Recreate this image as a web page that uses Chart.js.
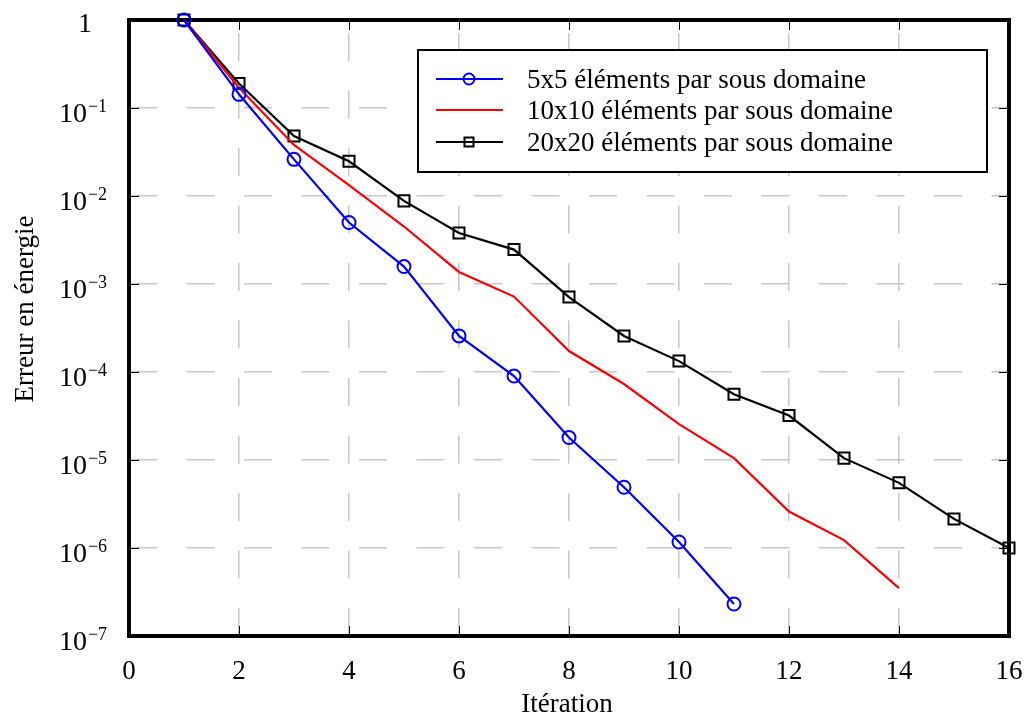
<!DOCTYPE html>
<html>
<head>
<meta charset="utf-8">
<script src="https://cdn.jsdelivr.net/npm/chart.js@4/dist/chart.umd.min.js"></script>
<style>
html,body{margin:0;padding:0;background:#fff;}
#c{display:block;}
</style>
</head>
<body>
<canvas id="c" width="1025" height="716"></canvas>
<script>
const iterations = [1,2,3,4,5,6,7,8,9,10,11,12,13,14,15,16];
const err5x5 = [1, 0.143, 0.0261, 0.0050, 0.00158, 2.57e-4, 9.0e-5, 1.8e-5, 4.9e-6, 1.17e-6, 2.31e-7];
const err10x10 = [1, 0.17, 0.038, 0.0133, 0.0045, 0.00137, 7.2e-4, 1.73e-4, 7.3e-5, 2.56e-5, 1.05e-5, 2.6e-6, 1.23e-6, 3.5e-7];
const err20x20 = [1, 0.19, 0.048, 0.0248, 0.0088, 0.0038, 0.00246, 7.1e-4, 2.57e-4, 1.33e-4, 5.6e-5, 3.2e-5, 1.05e-5, 5.5e-6, 2.14e-6, 1.0e-6];
const seriesLabels = ['5x5 éléments par sous domaine', '10x10 éléments par sous domaine', '20x20 éléments par sous domaine'];
const xTickValues = [0,2,4,6,8,10,12,14,16];
const yTickExponents = [0,-1,-2,-3,-4,-5,-6,-7];
const xTitle = 'Itération';
const yTitle = 'Erreur en énergie';

const FONT = 'Liberation Serif';
const toPts = (ys) => ys.map((v, i) => ({x: iterations[i], y: v}));

const decor = {
  id: 'decor',
  beforeDatasetsDraw(chart) {
    const ctx = chart.ctx, a = chart.chartArea;
    const xs = chart.scales.x, ys = chart.scales.y;
    ctx.save();
    ctx.strokeStyle = '#000';
    ctx.lineWidth = 1;
    ctx.beginPath();
    xTickValues.forEach(v => {
      if (v === xs.min || v === xs.max) return;
      const px = Math.round(xs.getPixelForValue(v)) + 0.5;
      ctx.moveTo(px, a.bottom); ctx.lineTo(px, a.bottom - 10);
      ctx.moveTo(px, a.top); ctx.lineTo(px, a.top + 10);
    });
    yTickExponents.forEach(k => {
      const v = Math.pow(10, k);
      if (v === ys.min || v === ys.max) return;
      const py = Math.round(ys.getPixelForValue(v)) + 0.5;
      ctx.moveTo(a.left, py); ctx.lineTo(a.left + 10, py);
      ctx.moveTo(a.right, py); ctx.lineTo(a.right - 10, py);
    });
    ctx.stroke();
    ctx.lineWidth = 4;
    ctx.strokeRect(a.left, a.top, a.right - a.left, a.bottom - a.top);
    ctx.restore();
  },
  afterDraw(chart) {
    const ctx = chart.ctx, a = chart.chartArea;
    const ys = chart.scales.y;
    ctx.save();
    ctx.fillStyle = '#000';
    const cx = 83;
    yTickExponents.forEach(k => {
      const py = ys.getPixelForValue(Math.pow(10, k));
      ctx.textBaseline = 'alphabetic';
      ctx.textAlign = 'left';
      if (k === 0) {
        ctx.font = '28px "' + FONT + '"';
        const w = ctx.measureText('1').width;
        ctx.fillText('1', cx + 2 - w / 2, py + 12);
      } else {
        ctx.font = '28px "' + FONT + '"';
        const w1 = ctx.measureText('10').width;
        ctx.font = '18px "' + FONT + '"';
        const sup = '\u2212' + Math.abs(k);
        const w2 = ctx.measureText(sup).width;
        const x0 = cx - (w1 + w2 + 1) / 2;
        ctx.font = '28px "' + FONT + '"';
        ctx.fillText('10', x0, py + 14);
        ctx.font = '18px "' + FONT + '"';
        ctx.fillText(sup, x0 + w1 + 1, py + 4);
      }
    });
    ctx.font = '27px "' + FONT + '"';
    ctx.textAlign = 'center';
    ctx.textBaseline = 'alphabetic';
    ctx.fillText(xTitle, 567, 712);
    ctx.save();
    ctx.translate(33, 309);
    ctx.rotate(-Math.PI / 2);
    ctx.fillText(yTitle, 0, 0);
    ctx.restore();
    const bx = 418, by = 50, bw = 569, bh = 122;
    ctx.fillStyle = '#fff';
    ctx.fillRect(bx, by, bw, bh);
    ctx.strokeStyle = '#000';
    ctx.lineWidth = 2;
    ctx.strokeRect(bx, by, bw, bh);
    const rows = [79, 110, 142];
    chart.data.datasets.forEach((ds, i) => {
      const y = rows[i];
      ctx.strokeStyle = ds.borderColor;
      ctx.lineWidth = 2;
      ctx.beginPath();
      ctx.moveTo(436, y); ctx.lineTo(503, y);
      ctx.stroke();
      if (ds.pointStyle === 'circle' && ds.pointRadius > 0) {
        ctx.beginPath();
        ctx.arc(469, y, 5.5, 0, Math.PI * 2);
        ctx.stroke();
      } else if (ds.pointStyle === 'rect' && ds.pointRadius > 0) {
        ctx.strokeRect(469 - 4.5, y - 4.5, 9, 9);
      }
      ctx.fillStyle = '#000';
      ctx.font = '27px "' + FONT + '"';
      ctx.textAlign = 'left';
      ctx.textBaseline = 'alphabetic';
      ctx.fillText(ds.label, 527, y + 9);
    });
    ctx.restore();
  }
};

const gridColor = '#c8c8c8';

new Chart(document.getElementById('c'), {
  type: 'line',
  data: {
    datasets: [
      {label: seriesLabels[0], data: toPts(err5x5), borderColor: '#0000ff', backgroundColor: 'transparent',
       borderWidth: 2.2, pointStyle: 'circle', pointRadius: 6.5, pointBorderWidth: 2, pointBackgroundColor: 'transparent',
       pointBorderColor: '#0000ff', clip: false, tension: 0},
      {label: seriesLabels[1], data: toPts(err10x10), borderColor: '#ff0000', backgroundColor: 'transparent',
       borderWidth: 2.2, pointStyle: 'circle', pointRadius: 0, clip: false, tension: 0},
      {label: seriesLabels[2], data: toPts(err20x20), borderColor: '#000000', backgroundColor: 'transparent',
       borderWidth: 2.2, pointStyle: 'rect', pointRadius: 7.8, pointBorderWidth: 2, pointBackgroundColor: 'transparent',
       pointBorderColor: '#000000', clip: false, tension: 0}
    ]
  },
  options: {
    responsive: false,
    animation: false,
    events: [],
    layout: {padding: {left: 0, right: 0, top: 20, bottom: 0}},
    plugins: {legend: {display: false}, tooltip: {enabled: false}, title: {display: false}},
    scales: {
      x: {
        type: 'linear', min: 0, max: 16,
        afterBuildTicks(s) { s.ticks = xTickValues.map(v => ({value: v})); },
        afterFit(s) { s.height = 80; s.paddingRight = 16; },
        ticks: {font: {family: FONT, size: 27}, color: '#000', padding: 20, maxRotation: 0, autoSkip: false},
        grid: {
          color: (c) => (c.tick && (c.tick.value === 0 || c.tick.value === 16)) ? 'rgba(0,0,0,0)' : gridColor,
          lineWidth: 1.5, drawTicks: false
        },
        border: {display: false, dash: [28, 29.5], dashOffset: 44.5}
      },
      y: {
        type: 'logarithmic', min: 1e-7, max: 1,
        afterBuildTicks(s) { s.ticks = yTickExponents.map(k => ({value: Math.pow(10, k)})); },
        afterFit(s) { s.width = 129; },
        ticks: {display: false},
        grid: {
          color: (c) => (c.tick && (c.tick.value === 1 || Math.abs(c.tick.value - 1e-7) < 1e-12)) ? 'rgba(0,0,0,0)' : gridColor,
          lineWidth: 1.5, drawTicks: false
        },
        border: {display: false, dash: [28, 29.5], dashOffset: 0}
      }
    }
  },
  plugins: [decor]
});
</script>
</body>
</html>
